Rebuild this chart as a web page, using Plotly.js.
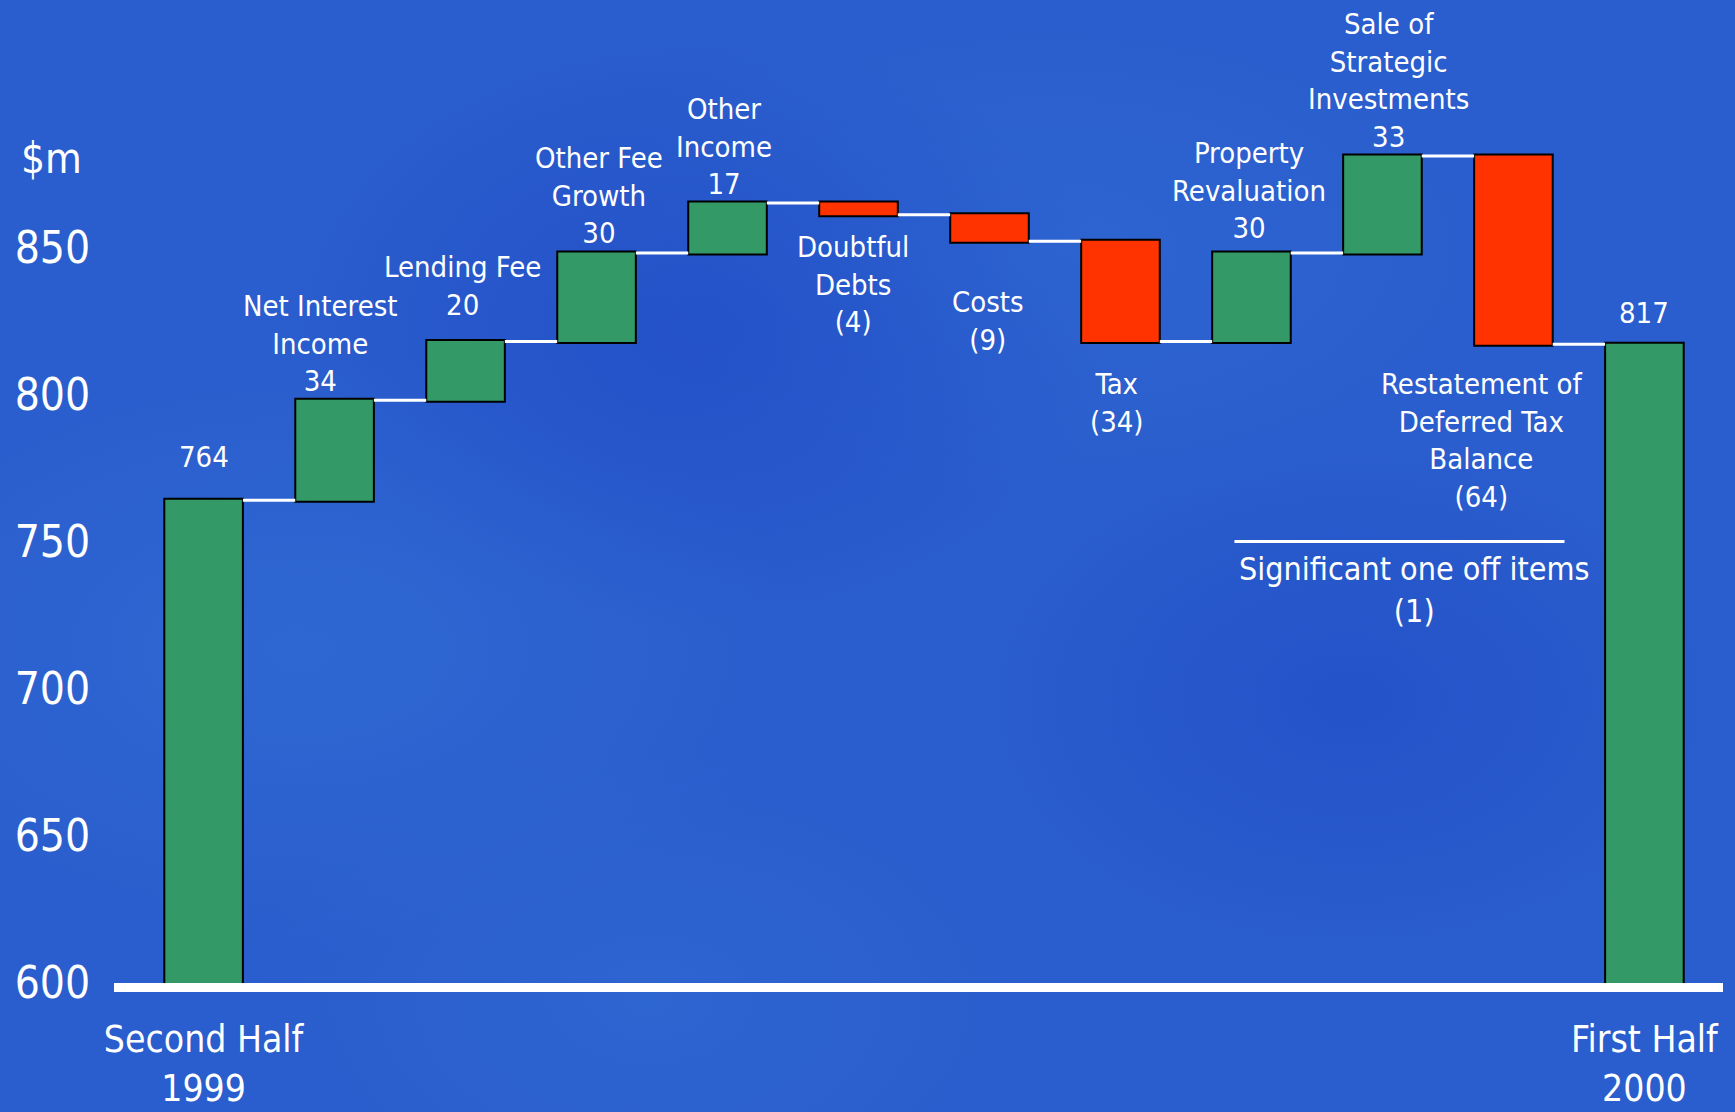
<!DOCTYPE html>
<html>
<head>
<meta charset="utf-8">
<script src="https://cdn.plot.ly/plotly-3.0.1.min.js"></script>
<style>
  html, body { margin: 0; padding: 0; width: 1735px; height: 1112px; overflow: hidden; }
  body {
    background:
      radial-gradient(ellipse 420px 300px at 700px 330px, rgba(30,70,195,0.55), rgba(30,70,195,0) 100%),
      radial-gradient(ellipse 380px 260px at 1350px 700px, rgba(30,72,196,0.5), rgba(30,72,196,0) 100%),
      radial-gradient(ellipse 500px 300px at 300px 650px, rgba(52,116,216,0.45), rgba(52,116,216,0) 100%),
      radial-gradient(ellipse 500px 260px at 1050px 250px, rgba(50,112,214,0.4), rgba(50,112,214,0) 100%),
      radial-gradient(ellipse 400px 250px at 650px 1000px, rgba(50,112,214,0.4), rgba(50,112,214,0) 100%),
      #2a5dcd;
  }
  #chart { width: 1735px; height: 1112px; }
</style>
</head>
<body>
<div id="chart"></div>
<script>
// ---- Data ----
const categories = ["Second Half 1999", "Net Interest Income", "Lending Fee", "Other Fee Growth",
  "Other Income", "Doubtful Debts", "Costs", "Tax", "Property Revaluation",
  "Sale of Strategic Investments", "Restatement of Deferred Tax Balance", "First Half 2000"];
const values = [764, 34, 20, 30, 17, -4, -9, -34, 30, 33, -64, 817];
const measures = ["absolute", "relative", "relative", "relative", "relative", "relative",
  "relative", "relative", "relative", "relative", "relative", "total"];
// display lines of each label (wrapped as in the chart)
const labelLines = [
  [],
  ["Net Interest", "Income"],
  ["Lending Fee"],
  ["Other Fee", "Growth"],
  ["Other", "Income"],
  ["Doubtful", "Debts"],
  ["Costs"],
  ["Tax"],
  ["Property", "Revaluation"],
  ["Sale of", "Strategic", "Investments"],
  ["Restatement of", "Deferred Tax", "Balance"],
  []
];
const xTickLabels = ["Second Half<br>1999", "First Half<br>2000"];
const yTicks = [600, 650, 700, 750, 800, 850];
const oneOffTitle = "Significant one off items";
const oneOffValue = -1;

// ---- Layout helpers ----
const xIdx = categories.map((_, i) => i);
const FONT = "'Liberation Sans Narrow', 'Arial Narrow', 'DejaVu Sans Condensed', sans-serif";

function fmt(v) { return v < 0 ? "(" + Math.abs(v) + ")" : String(v); }

// running totals (top/bottom of each bar)
let run = 0;
const tops = [], bottoms = [];
values.forEach((v, i) => {
  let a, b;
  if (measures[i] === "absolute") { a = 0; b = v; run = v; }
  else if (measures[i] === "total") { a = 0; b = run; }
  else { a = run; b = run + v; run = b; }
  tops.push(Math.max(a, b)); bottoms.push(Math.min(a, b));
});

// label placement: [x offset in category units, above?, yshift px]
const place = [
  [0.00, true, 24],
  [-0.11, true, 0],
  [-0.024, true, 17],
  [0.015, true, 1],
  [-0.03, true, 0],
  [-0.04, false, -13],
  [-0.01, false, -42],
  [-0.03, false, -24],
  [-0.02, true, 6],
  [0.05, true, 0],
  [-0.245, false, -21],
  [0.00, true, 12]
];

const annotations = [];
categories.forEach((c, i) => {
  const lines = labelLines[i].slice();
  lines.push(fmt(values[i]));
  const p = place[i];
  annotations.push({
    x: xIdx[i] + p[0],
    y: p[1] ? tops[i] : bottoms[i],
    xref: "x", yref: "y",
    text: lines.join("<br>"),
    showarrow: false,
    xanchor: "center",
    yanchor: p[1] ? "bottom" : "top",
    yshift: p[2],
    align: "center",
    font: { family: FONT, size: 29, color: "white" }
  });
});
// one-off items summary
annotations.push({
  x: 9.24, y: 749, xref: "x", yref: "y",
  text: oneOffTitle + "<br>" + fmt(oneOffValue),
  showarrow: false, xanchor: "center", yanchor: "top", yshift: -4,
  align: "center",
  font: { family: FONT, size: 32, color: "white" }
});
// unit label
annotations.push({
  x: -0.059, y: 880, xref: "paper", yref: "y",
  text: "$m", showarrow: false, xanchor: "left", yanchor: "middle",
  font: { family: FONT, size: 42, color: "white" }
});

const trace = {
  type: "waterfall",
  x: xIdx,
  y: values,
  measure: measures,
  textinfo: "none",
  hoverinfo: "skip",
  increasing: { marker: { color: "#339966", line: { color: "#000000", width: 2 } } },
  decreasing: { marker: { color: "#FF3300", line: { color: "#000000", width: 2 } } },
  totals: { marker: { color: "#339966", line: { color: "#000000", width: 2 } } },
  connector: { mode: "between", line: { color: "white", width: 3 } }
};

const layout = {
  width: 1735, height: 1112,
  paper_bgcolor: "rgba(0,0,0,0)",
  plot_bgcolor: "rgba(0,0,0,0)",
  margin: { l: 114, r: 12, t: 10, b: 129 },
  showlegend: false,
  waterfallgap: 0.4,
  xaxis: {
    range: [-0.684, 11.60],
    tickvals: [xIdx[0], xIdx[xIdx.length - 1]],
    ticktext: xTickLabels,
    tickfont: { family: FONT, size: 37, color: "white" },
    showgrid: false, zeroline: false,
    showline: true, linecolor: "white", linewidth: 9,
    ticks: "outside", ticklen: 16, tickcolor: "rgba(0,0,0,0)"
  },
  yaxis: {
    range: [600, 930.6],
    tickvals: yTicks,
    ticktext: yTicks.map(String),
    tickfont: { family: FONT, size: 44, color: "white" },
    showgrid: false, zeroline: false, showline: false,
    ticks: "outside", ticklen: 14, tickcolor: "rgba(0,0,0,0)"
  },
  shapes: [{
    type: "line", xref: "x", yref: "y",
    x0: 7.87, x1: 10.39, y0: 750, y1: 750,
    line: { color: "white", width: 3 }
  }],
  annotations: annotations
};

Plotly.newPlot("chart", [trace], layout, { displayModeBar: false, staticPlot: true });
</script>
</body>
</html>
